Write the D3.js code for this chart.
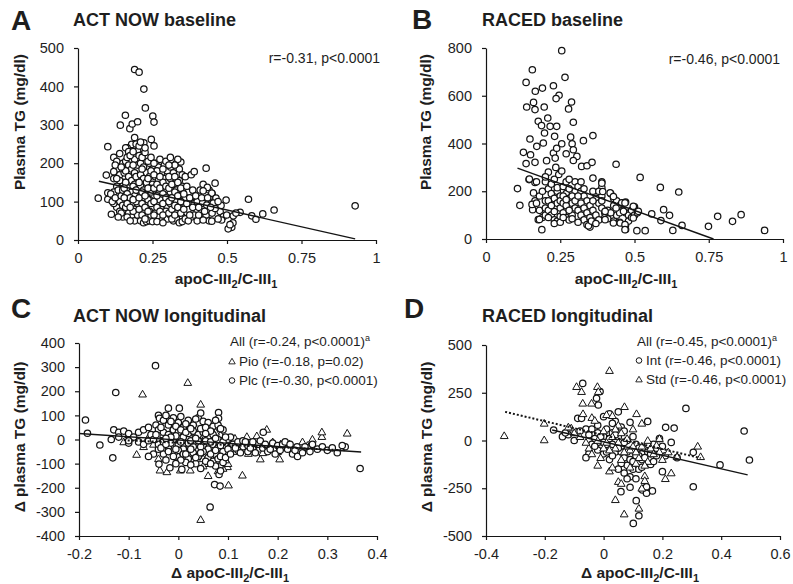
<!DOCTYPE html>
<html>
<head>
<meta charset="utf-8">
<script src="https://cdn.jsdelivr.net/npm/d3@7"></script>
<style>
  body { margin: 0; background: #fff; }
  svg text { font-family: "Liberation Sans", Arial, sans-serif; fill: #1e1e1e; }
</style>
</head>
<body>
<script>
// ---- data ----

// A: ACT NOW baseline, [apoC-III2/C-III1, plasma TG]
const actNowBaseline = [
  [0.19,444],[0.205,437],[0.221,393],[0.226,344],[0.251,323],[0.255,307],[0.159,325],[0.142,299],[0.174,290],[0.182,302],
  [0.2,308],[0.19,267],[0.18,249],[0.221,253],[0.246,262],[0.255,245],[0.10,243],[0.165,240],[0.2,232],[0.215,222],
  [0.068,109],[0.1,123],[0.095,169],[0.1,106],[0.112,67],[0.12,215],[0.13,185],[0.12,160],[0.13,140],[0.12,125],
  [0.14,100],[0.13,85],[0.12,95],[0.14,75],[0.15,60],[0.14,170],[0.15,150],[0.15,200],[0.14,225],[0.13,205],
  [0.12,178],[0.11,120],[0.115,100],[0.125,110],[0.135,130],[0.145,115],[0.15,90],[0.15,130],[0.14,155],[0.155,175],
  [0.16,240],[0.17,230],[0.19,210],[0.16,205],[0.17,195],[0.18,185],[0.19,175],[0.2,195],[0.16,180],[0.17,165],
  [0.18,155],[0.19,145],[0.2,160],[0.16,150],[0.17,135],[0.18,125],[0.19,115],[0.2,130],[0.16,115],[0.17,100],
  [0.18,90],[0.19,80],[0.2,95],[0.16,85],[0.17,70],[0.18,60],[0.19,50],[0.2,65],[0.165,60],[0.175,50],
  [0.185,75],[0.195,100],[0.155,135],[0.165,215],[0.175,220],[0.185,230],[0.195,250],[0.205,245],[0.21,255],[0.205,220],
  [0.165,120],[0.185,140],[0.175,110],[0.195,165],[0.185,195],
  [0.21,200],[0.22,190],[0.23,175],[0.24,200],[0.25,185],[0.21,170],[0.22,160],[0.23,150],[0.24,165],[0.25,145],
  [0.21,140],[0.22,130],[0.23,120],[0.24,135],[0.25,115],[0.21,110],[0.22,100],[0.23,90],[0.24,105],[0.25,85],
  [0.21,80],[0.22,70],[0.23,60],[0.24,75],[0.25,55],[0.21,50],[0.22,45],[0.23,48],[0.24,50],[0.25,48],
  [0.215,215],[0.225,228],[0.235,205],[0.245,215],[0.225,240],[0.215,185],[0.235,160],[0.245,125],[0.215,95],[0.235,105],[0.245,65],
  [0.26,200],[0.27,190],[0.28,175],[0.29,195],[0.3,180],[0.26,165],[0.27,155],[0.28,140],[0.29,160],[0.3,150],
  [0.26,130],[0.27,120],[0.28,110],[0.29,125],[0.3,115],[0.26,100],[0.27,90],[0.28,80],[0.29,95],[0.3,85],
  [0.26,70],[0.27,60],[0.28,50],[0.29,65],[0.3,55],[0.265,48],[0.285,45],[0.275,210],[0.295,205],[0.31,215],
  [0.265,180],[0.285,150],[0.275,105],[0.295,75],
  [0.31,190],[0.32,175],[0.33,200],[0.34,185],[0.35,170],[0.31,160],[0.32,145],[0.33,130],[0.34,155],[0.35,140],
  [0.31,125],[0.32,110],[0.33,100],[0.34,115],[0.35,90],[0.31,95],[0.32,80],[0.33,70],[0.34,85],[0.35,60],
  [0.31,65],[0.32,50],[0.33,55],[0.34,45],[0.35,48],[0.345,203],[0.335,210],[0.325,195],
  [0.36,165],[0.38,170],[0.39,178],[0.43,187],[0.37,125],[0.38,100],[0.36,110],[0.37,80],[0.39,95],[0.4,75],
  [0.38,60],[0.36,55],[0.41,55],[0.42,90],[0.43,95],[0.44,130],[0.41,130],[0.45,120],[0.40,100],[0.39,65],
  [0.37,50],[0.40,50],[0.43,65],[0.45,70],[0.44,50],[0.42,145],[0.46,148],[0.44,110],
  [0.449,122],[0.434,137],[0.42,128],[0.463,109],[0.454,96],[0.477,74],[0.488,61],[0.42,52],[0.449,49],[0.482,52],
  [0.499,65],[0.521,63],[0.418,96],[0.432,91],[0.46,82],[0.415,74],
  [0.497,104],[0.572,106],[0.658,78],[0.62,68],[0.583,63],[0.597,54],[0.93,89],[0.544,72],[0.516,33],[0.504,29],
  [0.52,45],[0.53,70],[0.51,40],[0.48,90],[0.47,100],
  [0.13,160],[0.125,195],[0.145,190],[0.155,110],[0.145,70],[0.135,60],[0.165,95],[0.175,85],[0.185,105],[0.195,130],
  [0.205,150],[0.205,110],[0.205,80],[0.215,125],[0.215,65],[0.225,115],[0.225,85],[0.225,55],[0.235,135],[0.235,75],
  [0.245,180],[0.245,95],[0.255,200],[0.255,170],[0.255,135],[0.255,100],[0.255,65],[0.265,145],[0.265,115],[0.265,85],
  [0.275,165],[0.275,135],[0.275,75],[0.285,185],[0.285,120],[0.285,95],[0.285,65],[0.295,140],[0.295,110],[0.305,195],
  [0.305,165],[0.305,135],[0.305,100],[0.305,70],[0.315,145],[0.315,110],[0.315,80],[0.315,55],[0.325,165],[0.325,125],
  [0.325,90],[0.325,65],[0.335,150],[0.335,115],[0.335,85],[0.345,135],[0.345,100],[0.345,70],[0.355,120],[0.355,80],
  [0.365,140],[0.365,95],[0.375,110],[0.375,65],[0.385,130],[0.385,85],[0.395,115],[0.405,85],[0.405,65],[0.415,110],
  [0.425,75],[0.435,110],[0.445,85],[0.47,55]
];
const actNowBaselineFit = [[0.07,153],[0.93,3]];

// B: RACED baseline
const racedBaseline = [
  [0.255,789],[0.156,709],[0.135,656],[0.266,677],[0.227,642],[0.166,619],[0.19,632],[0.288,574],[0.246,602],[0.236,588],
  [0.278,545],[0.137,553],[0.16,572],[0.165,542],[0.196,553],[0.208,507],[0.294,489],[0.176,493],[0.187,475],[0.216,472],
  [0.238,472],[0.197,444],[0.231,430],[0.255,399],[0.285,427],[0.29,399],[0.36,433],[0.328,412],[0.148,419],[0.171,388],
  [0.193,402],[0.126,363],[0.15,353],[0.227,360],[0.238,380],[0.27,357],[0.294,374],[0.306,346],[0.135,316],[0.165,321],
  [0.204,328],[0.233,339],[0.294,329],[0.322,304],[0.34,307],[0.357,321],[0.438,313],[0.519,258],[0.587,216],[0.649,197],
  [0.145,249],[0.165,237],[0.106,211],[0.114,141],[0.16,193],[0.146,251],[0.157,123],[0.176,81],[0.188,39],[0.165,160],[0.155,145],
  [0.17,150],[0.18,120],[0.19,90],[0.18,180],[0.19,200],[0.2,160],[0.2,130],[0.18,82],[0.2,100],[0.17,240],
  [0.2,240],[0.21,280],[0.2,260],
  [0.21,210],[0.22,190],[0.23,170],[0.24,150],[0.25,130],[0.21,120],[0.22,100],[0.23,80],[0.24,75],[0.25,95],
  [0.21,160],[0.22,140],[0.23,115],[0.24,200],[0.25,180],[0.22,230],[0.23,250],[0.24,215],[0.25,160],[0.21,90],
  [0.23,65],[0.25,70],[0.245,270],[0.255,285],[0.235,300],
  [0.26,220],[0.27,190],[0.28,170],[0.29,150],[0.3,130],[0.26,110],[0.27,90],[0.28,80],[0.29,100],[0.3,200],
  [0.26,150],[0.27,140],[0.28,120],[0.29,180],[0.3,240],[0.27,240],[0.28,210],[0.26,180],[0.29,85],[0.3,160],
  [0.28,250],[0.27,165],[0.26,90],
  [0.31,220],[0.32,200],[0.33,180],[0.34,160],[0.35,140],[0.31,120],[0.32,100],[0.33,80],[0.34,60],[0.35,50],
  [0.31,180],[0.32,150],[0.33,130],[0.34,110],[0.35,90],[0.32,240],[0.33,210],[0.31,70],[0.345,55],[0.355,75],
  [0.36,200],[0.37,170],[0.38,150],[0.39,130],[0.4,110],[0.36,120],[0.37,100],[0.38,80],[0.39,240],[0.39,215],
  [0.39,180],[0.38,200],[0.36,160],[0.37,65],[0.4,90],[0.36,255],[0.39,160],
  [0.41,120],[0.42,190],[0.43,170],[0.44,160],[0.45,140],[0.46,120],[0.47,110],[0.48,100],[0.49,120],[0.5,135],
  [0.41,85],[0.43,75],[0.45,70],[0.47,60],[0.48,75],[0.44,100],[0.46,150],[0.47,155],[0.49,90],[0.43,140],
  [0.42,110],[0.45,110],[0.5,100],[0.51,110],[0.47,40],
  [0.39,234],[0.393,199],[0.418,193],[0.429,178],[0.457,151],[0.468,151],[0.496,137],[0.438,130],[0.463,116],[0.401,116],
  [0.401,81],[0.429,67],[0.452,67],[0.468,60],[0.468,39],[0.496,88],[0.513,116],
  [0.598,123],[0.618,99],[0.558,105],[0.589,77],[0.66,57],[0.629,36],[0.508,35],[0.536,35],[0.749,53],[0.78,95],
  [0.83,74],[0.859,102],[0.938,36]
];
const racedBaselineFit = [[0.106,297],[0.766,0]];

// C: ACT NOW longitudinal (Δ values); Plc = circles, Pio = triangles
const actNowPlc = [
  [-0.046,306],[-0.126,195],[-0.187,81],[-0.183,26],[-0.158,-23],[-0.132,-76],[0.064,-280],[0.073,-187],[0.084,-193],[0.082,-145],
  [0.084,-110],[0.007,-124],[-0.017,-117],[-0.039,-102],[0.002,130],[-0.02,130],[0.081,112],[0.081,88],[-0.04,100],[-0.038,88],
  [0.366,-120],[0.336,-30],[0.171,30],[0.239,-30],[0.212,-30],
  [-0.13,40],[-0.12,30],[-0.11,35],[-0.1,25],[-0.12,10],[-0.135,0],[-0.1,-15],[-0.09,10],[-0.08,30],[-0.07,40],
  [-0.06,50],[-0.08,-10],[-0.07,-20],[-0.06,-5],[-0.05,-60],[-0.06,-70],[-0.04,-40],[-0.045,60],[-0.055,20],[-0.05,0],
  [-0.04,-20],[-0.04,40],[-0.1,-5],
  [-0.03,80],[-0.02,60],[-0.01,90],[0,70],[0.01,50],[0.02,80],[0.03,60],[0.04,90],[0.05,75],[0.06,70],[0.07,55],[0.08,60],[0.09,40],
  [-0.03,30],[-0.02,20],[-0.01,40],[0,30],[0.01,10],[0.02,25],[0.03,35],[0.04,20],[0.05,30],[0.06,10],[0.07,20],[0.08,0],[0.09,-10],
  [-0.03,-10],[-0.02,-30],[-0.01,0],[0,-20],[0.01,-40],[0.02,-15],[0.03,-30],[0.04,-5],[0.05,-25],[0.06,-40],[0.07,-20],[0.08,-35],[0.09,-50],
  [-0.03,-60],[-0.02,-50],[-0.01,-70],[0,-45],[0.01,-60],[0.02,-80],[0.03,-55],[0.04,-70],[0.05,-50],[0.06,-75],[0.07,-90],[0.08,-80],[0.09,-95],
  [-0.025,-85],[0.015,-95],[0.035,-100],[0.075,-110],[0.065,-60],[0.085,-70],[0.025,-5],[0.045,45],[0.055,-5],[0.015,65],
  [0.005,95],[-0.005,15],[0.035,5],[-0.015,-15],[0.045,-30],
  [0.11,-20],[0.12,-10],[0.13,-30],[0.14,-25],[0.15,-40],[0.16,-20],[0.17,-35],[0.18,-30],[0.19,-15],[0.2,-25],
  [0.22,-40],[0.23,-60],[0.24,-70],[0.26,-35],[0.28,-40],[0.1,-40],[0.12,-45],[0.15,-10],[0.14,-50],[0.18,-50],
  [0.21,-20],[0.25,-55],[0.33,-25],[0.105,10],[0.13,-5],
  [-0.035,50],[-0.025,100],[-0.015,75],[-0.005,55],[0.005,40],[0.015,30],[0.025,45],[0.035,85],[0.045,110],[0.055,50],
  [0.065,35],[0.075,80],[0.085,45],[0.095,10],[-0.035,-35],[-0.025,-20],[-0.015,10],[-0.005,-40],[0.005,-10],[0.015,-60],
  [0.025,-40],[0.035,-75],[0.045,-55],[0.055,-90],[0.065,-10],[0.075,-45],[0.085,-25],[0.095,-75],[0.005,-85],[0.025,-105],
  [0.045,-120],[0.065,-100],[0.085,-130],[-0.005,-100],[0.055,25],[0.075,5],[-0.045,20],[-0.025,5],[0.105,-60],[0.115,-35],
  [0.125,-55],[0.135,-10],[0.145,-35],[0.155,-55],[0.165,-5],[0.175,-20],[0.185,-40],[0.195,-60],[0.205,-45],[0.215,-10],
  [0.225,-20],[0.235,-45],[0.255,-30],[0.265,-50],[0.27,-20],[0.29,-30],[0.3,-45],[0.31,-35],[0.32,-55]
];
const actNowPio = [
  [-0.072,188],[0.019,236],[0.045,146],[-0.084,-62],[0.045,-332],[0.101,-189],[0.129,-148],[0.165,-81],[0.204,-81],[0.34,26],
  [0.27,1],[0.289,12],[0.289,31],[0.178,42],[0.158,15],[0.138,12],[0.114,5],[0.141,-58],[0.206,-19],[0.224,-19],
  [-0.037,-127],[-0.023,-134],[0.004,-127],[0.024,-127],[0.069,-78],[0.088,-99],[0.099,-113],
  [-0.11,-10],[-0.1,20],[-0.07,-30],[-0.06,10],[-0.05,-20],[-0.03,20],[-0.02,-40],[-0.01,50],[0,10],[0.01,-20],
  [0.02,30],[0.03,-50],[0.04,10],[0.05,-15],[0.06,40],[0.07,-30],[0.08,50],[0.09,-60],[0.1,0],[0,-70],
  [0.02,-90],[0.05,-80],[0.06,-100],[0.09,-120],[0.085,20],[0.03,70],[-0.04,-80],[-0.02,90],[0.12,-30],[0.16,-40],
  [0.19,-10],[0.25,-10],[0.22,-30],[0.05,-110],[0.08,-130],[0.06,-150],[0.1,-100],
  [-0.035,-10],[-0.015,15],[0.005,-35],[0.015,55],[0.025,-60],[0.035,25],[0.045,-45],[0.055,15],[0.065,-70],[0.075,30],
  [0.085,-40],[0.095,-85],[0.105,-20],[0.115,-50],[0.13,-15],[0.15,-30],[0.17,-55],[0.2,-50],[0.23,-40],[0.26,-25]
];
const actNowPlcFit = [[-0.2,25],[0.368,-52]];
const actNowPioFit = [[-0.11,-3],[0.335,-45]];

// D: RACED longitudinal; Int = circles, Std = triangles
const racedInt = [
  [-0.071,299],[-0.012,256],[-0.024,221],[-0.018,186],[-0.088,116],[-0.075,116],[0.28,168],[0.211,69],[0.478,50],[0.496,-102],
  [0.396,-128],[0.305,-62],[0.305,-242],[0.2,-163],[0.101,-434],[0.12,-394],[0.111,-315],[0.09,-245],[0.059,-268],[0.132,-259],
  [0.166,-264],[0.146,-276],[0.146,-242],
  [-0.17,55],[-0.14,20],[-0.12,30],[-0.1,0],[-0.13,40],[-0.08,50],[-0.06,60],[-0.05,30],[-0.04,-20],[-0.05,-70],[-0.06,-90],
  [-0.03,10],[-0.02,40],[-0.01,-40],[0,-70],[0,20],[0.01,60],[0.02,140],[0,125],[0.04,100],[0.05,150],
  [0.03,-20],[0.04,-60],[0.05,20],[0.06,-30],[0.07,-90],[0.08,-130],[0.08,0],[0.09,95],[0.1,-150],[0.1,-50],
  [0.11,-20],[0.12,-150],[0.12,-80],[0.13,-100],[0.14,-40],[0.15,100],[0.15,-60],[0.16,-125],[0.17,-20],[0.18,-80],
  [0.19,10],[0.2,-30],[0.21,-80],[0.23,-10],[0.24,65],[0.25,-90],[0.02,-100],[0.06,70],[-0.02,-50],[0.03,40],
  [0.07,-170],[0.09,-190],[0.11,-200],[-0.04,60],[0.01,-20],[0.06,-60],
  [-0.03,-30],[-0.01,20],[0.01,-60],[0.02,10],[0.03,-80],[0.04,30],[0.05,-40],[0.06,-120],[0.07,-10],[0.08,-60],
  [0.09,-100],[0.1,20],[0.11,-80],[0.12,-40],[0.13,-140],[0.14,-90],[0.15,-20],[0.16,-70],[0.17,-110],[0.18,-40],
  [0,-10],[-0.02,80],[0.03,90],[0.07,50],[0.1,-110],[0.05,-150],[0.08,-200]
];
const racedStd = [
  [-0.338,25],[-0.202,3],[-0.202,90],[0.02,366],[-0.092,282],[-0.075,256],[-0.071,195],[-0.041,195],[-0.021,282],[-0.018,256],
  [0.071,177],[0.112,140],[0.13,90],[-0.11,65],[0.01,135],[0.03,130],[0.15,0],[0.18,-25],[0.19,-60],[0.32,-30],
  [0.33,-85],[0.21,-200],[0.23,-170],[0.14,-185],[0.14,-210],[0.05,-215],[0.06,-225],[0.04,-310],[0.07,-385],[0.12,-355],
  [0.13,-250],[-0.05,-40],[0.02,-160],[0.03,-140],[0.06,-100],[0.09,-50],[0.1,-30],[0.12,-90],[0.08,10],[-0.01,-90],
  [0.2,-100],[-0.04,120],[-0.03,105],[-0.08,20],[-0.06,-10],[0,50],[0.04,-40],[0.06,40],[0.11,-120],[0.16,-40],
  [0.19,10],[0.25,-85],[-0.02,-130],[0.05,80],[0.01,-10],[0.15,-110],
  [-0.04,-70],[-0.02,0],[0,-40],[0.02,-50],[0.03,20],[0.05,-10],[0.07,-60],[0.09,-140],[0.1,60],[0.11,-60],
  [0.13,-30],[0.14,-130],[0.17,-70],[0.22,-60],[-0.1,40],[-0.12,70],[-0.07,140],[0.04,60]
];
const racedIntFit = [[-0.175,55],[0.49,-180]];
const racedStdFit = [[-0.335,150],[0.33,-92]];

// ticks
const ticksRatio = [0, 0.25, 0.5, 0.75, 1];
const ticksTgA = [0, 100, 200, 300, 400, 500];
const ticksTgB = [0, 200, 400, 600, 800];
const ticksDeltaC = [-0.2, -0.1, 0, 0.1, 0.2, 0.3, 0.4];
const ticksDeltaTgC = [-400, -300, -200, -100, 0, 100, 200, 300, 400];
const ticksDeltaD = [-0.4, -0.2, 0, 0.2, 0.4, 0.6];
const ticksDeltaTgD = [-500, -250, 0, 250, 500];

// ---- drawing ----
const svg = d3.select("body").append("svg")
  .attr("width", 793)
  .attr("height", 584);

const ink = "#141414";

function circles(g, data, x, y) {
  g.selectAll(null)
    .data(data)
    .enter()
    .append("circle")
    .attr("cx", d => x(d[0]))
    .attr("cy", d => y(d[1]))
    .attr("r", 3.2)
    .attr("fill", "#fff")
    .attr("stroke", ink)
    .attr("stroke-width", 1.25);
}

function triangles(g, data, x, y) {
  const tri = d3.symbol().type(d3.symbolTriangle).size(26);
  g.selectAll(null)
    .data(data)
    .enter()
    .append("path")
    .attr("d", tri)
    .attr("transform", d => `translate(${x(d[0])},${y(d[1]) + 0.6})`)
    .attr("fill", "#fff")
    .attr("stroke", ink)
    .attr("stroke-width", 1);
}

function fitLine(g, pts, x, y, dashed) {
  g.append("path")
    .datum(pts)
    .attr("d", d3.line().x(d => x(d[0])).y(d => y(d[1])))
    .attr("fill", "none")
    .attr("stroke", ink)
    .attr("stroke-width", dashed ? 2 : 1.4)
    .attr("stroke-dasharray", dashed ? "2,2" : null);
}

// x title with subscripts
function ratioTitle(g, cx, cy, delta) {
  const t = g.append("text")
    .attr("x", cx)
    .attr("y", cy)
    .attr("text-anchor", "middle")
    .style("font-size", "15.5px")
    .style("font-weight", "bold");
  t.append("tspan").text((delta ? "Δ " : "") + "apoC-III");
  t.append("tspan").attr("dy", 4).style("font-size", "11px").text("2");
  t.append("tspan").attr("dy", -4).text("/C-III");
  t.append("tspan").attr("dy", 4).style("font-size", "11px").text("1");
}

function drawPanel(p) {
  const g = svg.append("g");
  const x = d3.scaleLinear().domain(p.xDomain).range([p.left, p.right]);
  const y = d3.scaleLinear().domain(p.yDomain).range([p.bottom, p.top]);

  // points
  if (p.tri) triangles(g, p.tri, x, y);
  if (p.circ) circles(g, p.circ, x, y);
  if (p.triAfter) triangles(g, p.triAfter, x, y);

  // fits
  p.fits.forEach(f => fitLine(g, f.pts, x, y, f.dashed));

  // axes
  const xAxis = g.append("g")
    .attr("transform", `translate(0,${p.bottom})`)
    .call(d3.axisBottom(x).tickValues(p.xTicks).tickSize(4).tickPadding(9)
      .tickSizeOuter(0).tickFormat(d => String(d)));
  const yAxis = g.append("g")
    .attr("transform", `translate(${p.left},0)`)
    .call(d3.axisLeft(y).tickValues(p.yTicks).tickSize(4).tickPadding(10)
      .tickSizeOuter(0).tickFormat(d => String(d)));
  [xAxis, yAxis].forEach(a => {
    a.attr("font-size", null).attr("font-family", null);
    a.select(".domain").attr("stroke", ink).attr("stroke-width", 1.2);
    a.selectAll(".tick line").attr("stroke", ink).attr("stroke-width", 1.2);
    a.selectAll(".tick text").style("font-size", "14.5px").attr("fill", ink);
  });

  // y title
  g.append("text")
    .attr("transform", `translate(${p.yTitle[0]},${p.yTitle[1]}) rotate(-90)`)
    .attr("text-anchor", "middle")
    .style("font-size", "15.5px")
    .style("font-weight", "bold")
    .text(p.yLabel);

  ratioTitle(g, p.xTitle[0], p.xTitle[1], p.delta);

  // letter and title
  g.append("text")
    .attr("x", p.letterPos[0]).attr("y", p.letterPos[1])
    .style("font-size", "28px").style("font-weight", "bold")
    .text(p.letter);
  g.append("text")
    .attr("x", p.titlePos[0]).attr("y", p.titlePos[1])
    .style("font-size", "18px").style("font-weight", "bold")
    .text(p.title);
  return g;
}

// A
const gA = drawPanel({
  letter: "A", title: "ACT NOW baseline", letterPos: [11, 30], titlePos: [73, 26],
  left: 78, right: 376, top: 48, bottom: 240,
  xDomain: [0, 1], yDomain: [0, 500], xTicks: ticksRatio, yTicks: ticksTgA,
  yLabel: "Plasma TG (mg/dl)", yTitle: [25, 122], xTitle: [226, 284], delta: false,
  circ: actNowBaseline, fits: [{ pts: actNowBaselineFit }]
});
gA.append("text").attr("x", 380).attr("y", 63).attr("text-anchor", "end")
  .style("font-size", "14px").text("r=-0.31, p<0.0001");

// B
const gB = drawPanel({
  letter: "B", title: "RACED baseline", letterPos: [412, 29], titlePos: [482, 26],
  left: 486, right: 783, top: 48, bottom: 239,
  xDomain: [0, 1], yDomain: [0, 800], xTicks: ticksRatio, yTicks: ticksTgB,
  yLabel: "Plasma TG (mg/dl)", yTitle: [431, 122], xTitle: [626, 284], delta: false,
  circ: racedBaseline, fits: [{ pts: racedBaselineFit }]
});
gB.append("text").attr("x", 780).attr("y", 64).attr("text-anchor", "end")
  .style("font-size", "14px").text("r=-0.46, p<0.0001");

// C
const gC = drawPanel({
  letter: "C", title: "ACT NOW longitudinal", letterPos: [11, 318], titlePos: [73, 322],
  left: 79, right: 377, top: 343, bottom: 536,
  xDomain: [-0.2, 0.4], yDomain: [-400, 400], xTicks: ticksDeltaC, yTicks: ticksDeltaTgC,
  yLabel: "Δ plasma TG (mg/dl)", yTitle: [25, 437], xTitle: [230, 578], delta: true,
  tri: actNowPio, circ: actNowPlc,
  fits: [{ pts: actNowPlcFit }, { pts: actNowPioFit, dashed: true }]
});

// D
const gD = drawPanel({
  letter: "D", title: "RACED longitudinal", letterPos: [404, 318], titlePos: [482, 322],
  left: 486, right: 780, top: 345, bottom: 536,
  xDomain: [-0.4, 0.6], yDomain: [-500, 500], xTicks: ticksDeltaD, yTicks: ticksDeltaTgD,
  yLabel: "Δ plasma TG (mg/dl)", yTitle: [432, 437], xTitle: [640, 578], delta: true,
  circ: racedInt, triAfter: racedStd,
  fits: [{ pts: racedIntFit }, { pts: racedStdFit, dashed: true }]
});

// legends for C and D
function legend(g, x0, rows) {
  rows.forEach(r => {
    const t = g.append("text")
      .attr("x", r.shape ? x0 + 9 : x0)
      .attr("y", r.y)
      .style("font-size", "13.5px")
      .text(r.label);
    if (r.sup) {
      t.append("tspan").attr("dy", -5).style("font-size", "9px").text(r.sup);
    }
    if (r.shape === "circle") {
      g.append("circle").attr("cx", x0 + 2).attr("cy", r.y - 4.5).attr("r", 2.8)
        .attr("fill", "#fff").attr("stroke", ink).attr("stroke-width", 1);
    } else if (r.shape === "triangle") {
      g.append("path").attr("d", d3.symbol().type(d3.symbolTriangle).size(18))
        .attr("transform", `translate(${x0 + 2},${r.y - 4})`)
        .attr("fill", "#fff").attr("stroke", ink).attr("stroke-width", 0.9);
    }
  });
}

legend(gC, 230, [
  { label: "All (r=-0.24, p<0.0001)", sup: "a", y: 346 },
  { label: "Pio (r=-0.18, p=0.02)", shape: "triangle", y: 366 },
  { label: "Plc (r=-0.30, p<0.0001)", shape: "circle", y: 385 }
]);
legend(gD, 637, [
  { label: "All (r=-0.45, p<0.0001)", sup: "a", y: 346 },
  { label: "Int (r=-0.46, p<0.0001)", shape: "circle", y: 365 },
  { label: "Std (r=-0.46, p<0.0001)", shape: "triangle", y: 384 }
]);
</script>
</body>
</html>
